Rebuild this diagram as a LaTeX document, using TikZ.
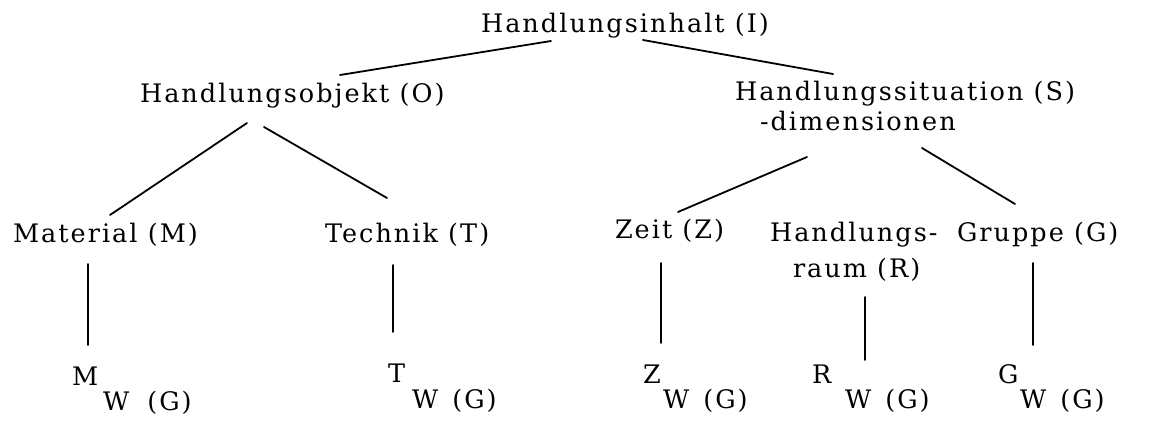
\documentclass[tikz,border=0pt]{standalone}
\usepackage{fontspec}
\setmainfont{DejaVu Serif}[LetterSpace=8]
\begin{document}
\begin{tikzpicture}[x=1pt,y=-1pt,
  lbl/.style={anchor=base west,inner sep=0pt,outer sep=0pt,
    font=\fontsize{25.5}{30}\selectfont},
  edge/.style={line width=1.8pt,line cap=round}]
\useasboundingbox (0,0) rectangle (1171,425);

% top level
\node[lbl] (I) at (481,33) {Handlungsinhalt (I)};

% second level
\node[lbl] (O) at (140,103) {Handlungsobjekt (O)};
\node[lbl] (S) at (735,101) {Handlungssituation (S)};
\node[lbl] (Sd) at (760,131) {-dimensionen};

% third level
\node[lbl] (M) at (13,243) {Material (M)};
\node[lbl] (T) at (325,242) {Technik (T)};
\node[lbl] (Z) at (615,238) {Zeit (Z)};
\node[lbl] (R1) at (770,241) {Handlungs-};
\node[lbl] (R2) at (793,277) {raum (R)};
\node[lbl] (G) at (957,241) {Gruppe (G)};

% leaves
\node[lbl] (lM) at (72,385) {M};
\node[lbl] (wM) at (103,410) {W\hspace{8pt} (G)};
\node[lbl] (lT) at (388,382) {T};
\node[lbl] (wT) at (412,408) {W\hspace{4pt} (G)};
\node[lbl] (lZ) at (643,383) {Z};
\node[lbl] (wZ) at (663,408) {W\hspace{4pt} (G)};
\node[lbl] (lR) at (812,383) {R};
\node[lbl] (wR) at (845,408) {W\hspace{4pt} (G)};
\node[lbl] (lG) at (998,383) {G};
\node[lbl] (wG) at (1020,408) {W\hspace{4pt} (G)};

% connector end points
\coordinate (I-l) at (551,41);
\coordinate (O-t) at (340,75);
\coordinate (I-r) at (643,40);
\coordinate (S-t) at (833,74);
\coordinate (O-l) at (247,123);
\coordinate (M-t) at (110,215);
\coordinate (O-r) at (264,127);
\coordinate (T-t) at (387,198);
\coordinate (S-l) at (807,157);
\coordinate (Z-t) at (678,212);
\coordinate (S-r) at (922,148);
\coordinate (G-t) at (1015,204);
\coordinate (M-b) at (88,264);
\coordinate (lM-t) at (88,345);
\coordinate (T-b) at (393,265);
\coordinate (lT-t) at (393,332);
\coordinate (Z-b) at (661,263);
\coordinate (lZ-t) at (661,343);
\coordinate (R-b) at (865,297);
\coordinate (lR-t) at (865,360);
\coordinate (G-b) at (1033,263);
\coordinate (lG-t) at (1033,345);

\draw[edge] (I-l) -- (O-t);
\draw[edge] (I-r) -- (S-t);
\draw[edge] (O-l) -- (M-t);
\draw[edge] (O-r) -- (T-t);
\draw[edge] (S-l) -- (Z-t);
\draw[edge] (S-r) -- (G-t);
\draw[edge] (M-b) -- (lM-t);
\draw[edge] (T-b) -- (lT-t);
\draw[edge] (Z-b) -- (lZ-t);
\draw[edge] (R-b) -- (lR-t);
\draw[edge] (G-b) -- (lG-t);
\end{tikzpicture}
\end{document}
